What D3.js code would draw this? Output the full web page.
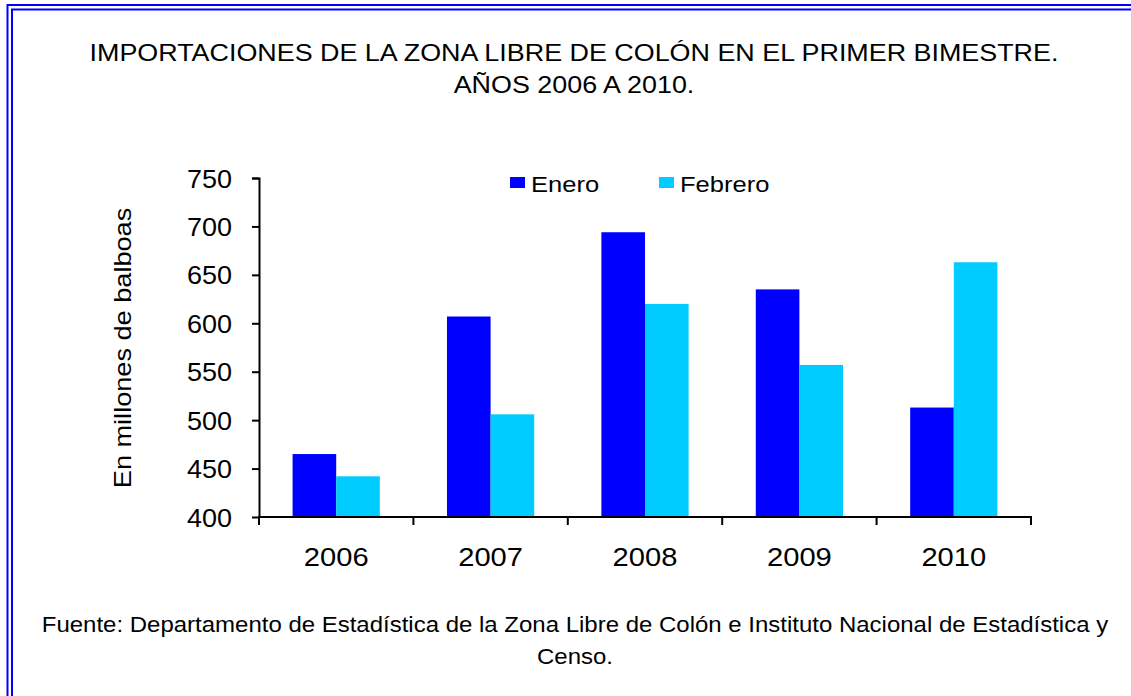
<!DOCTYPE html>
<html>
<head>
<meta charset="utf-8">
<script src="https://cdn.jsdelivr.net/npm/d3@7"></script>
<style>
  body { margin: 0; background: #fff; }
  svg { display: block; font-family: "Liberation Sans", Arial, sans-serif; }
</style>
</head>
<body>
<div id="chart"></div>
<script>
var years = ["2006", "2007", "2008", "2009", "2010"];
var enero = [465, 607, 694, 635, 513];
var febrero = [442, 506, 620, 557, 663];
var seriesNames = ["Enero", "Febrero"];
var seriesColors = ["#0000ff", "#00ccff"];
var yTicks = [400, 450, 500, 550, 600, 650, 700, 750];
var titleLines = ["IMPORTACIONES DE LA ZONA LIBRE DE COLÓN EN EL PRIMER BIMESTRE.", "AÑOS 2006 A 2010."];
var sourceLines = ["Fuente: Departamento de Estadística de la Zona Libre de Colón e Instituto Nacional de Estadística y", "Censo."];

var outerWidth = 1131,
    outerHeight = 696;
var margin = { top: 178, right: 100, bottom: 179, left: 259 },
    width = 1031 - margin.left,
    height = 517 - margin.top;

// the original text is a bit wider than Liberation Sans, so widen it
function stretch(sel, k) {
    sel.each(function() {
        var len = this.getComputedTextLength();
        d3.select(this)
            .attr("textLength", len * k)
            .attr("lengthAdjust", "spacingAndGlyphs");
    });
}

var svg = d3.select("#chart")
    .append("svg")
    .attr("width", outerWidth)
    .attr("height", outerHeight);

// double blue frame (runs off the right and bottom edges)
svg.append("rect")
    .attr("x", 7.5).attr("y", 5)
    .attr("width", 1200).attr("height", 800)
    .style("fill", "none").style("stroke", "#0000ff").style("stroke-width", 2);
svg.append("rect")
    .attr("x", 12).attr("y", 9.5)
    .attr("width", 1200).attr("height", 800)
    .style("fill", "none").style("stroke", "#0000ff").style("stroke-width", 2);

// title
svg.selectAll(".title")
    .data(titleLines)
    .enter().append("text")
    .attr("class", "title")
    .attr("x", 574)
    .attr("y", function(d, i) { return 61 + i * 32; })
    .attr("text-anchor", "middle")
    .style("font-size", "24px")
    .style("fill", "#000")
    .text(function(d) { return d; })
    .call(stretch, 1.12);

var g = svg.append("g")
    .attr("transform", "translate(" + margin.left + "," + margin.top + ")");

var x0 = d3.scaleBand()
    .domain(years)
    .range([0, width])
    .paddingInner(0.435)
    .paddingOuter(0.2175);

var x1 = d3.scaleBand()
    .domain(seriesNames)
    .range([0, x0.bandwidth()]);

var y = d3.scaleLinear()
    .domain([400, 750])
    .range([height, 0]);

var rows = years.map(function(yr, i) {
    return { year: yr, values: [enero[i], febrero[i]] };
});

g.selectAll(".group")
    .data(rows)
    .enter().append("g")
    .attr("class", "group")
    .attr("transform", function(d) { return "translate(" + x0(d.year) + ",0)"; })
    .selectAll("rect")
    .data(function(d) { return d.values; })
    .enter().append("rect")
    .attr("x", function(d, i) { return x1(seriesNames[i]); })
    .attr("width", x1.bandwidth())
    .attr("y", function(d) { return y(d); })
    .attr("height", function(d) { return height - y(d); })
    .style("fill", function(d, i) { return seriesColors[i]; });

// y axis
var yAxis = d3.axisLeft(y)
    .tickValues(yTicks)
    .tickSize(7)
    .tickPadding(20);
var yg = g.append("g").call(yAxis);
yg.select(".domain").attr("d", "M-7,0.5H0.5V" + height);
yg.selectAll(".tick line").style("stroke", "#000").style("stroke-width", 2);
yg.select(".domain").style("stroke", "#000").style("stroke-width", 2);
yg.selectAll("text")
    .style("font-size", "25px")
    .style("font-family", "Liberation Sans, Arial, sans-serif")
    .style("fill", "#000")
    .attr("dy", "0.36em")
    .call(stretch, 1.08);

// x axis: ticks at category boundaries
var bounds = years.map(function(yr) { return x0(yr) - x0.step() * x0.paddingInner() / 2; });
bounds.push(width);
var xg = g.append("g").attr("transform", "translate(0," + height + ")");
xg.append("line")
    .attr("x1", 0).attr("x2", width)
    .attr("y1", 0).attr("y2", 0)
    .style("stroke", "#000").style("stroke-width", 2);
xg.selectAll(".xtick")
    .data(bounds)
    .enter().append("line")
    .attr("class", "xtick")
    .attr("x1", function(d) { return d; }).attr("x2", function(d) { return d; })
    .attr("y1", -1).attr("y2", 8)
    .style("stroke", "#000").style("stroke-width", 2);
xg.selectAll(".xlabel")
    .data(years)
    .enter().append("text")
    .attr("class", "xlabel")
    .attr("x", function(d) { return x0(d) + x0.bandwidth() / 2; })
    .attr("y", 49)
    .attr("text-anchor", "middle")
    .style("font-size", "26px")
    .style("fill", "#000")
    .text(function(d) { return d; })
    .call(stretch, 1.12);

// y axis title
svg.append("text")
    .attr("transform", "translate(131,348) rotate(-90)")
    .attr("text-anchor", "middle")
    .style("font-size", "24px")
    .style("fill", "#000")
    .text("En millones de balboas")
    .call(stretch, 1.13);

// legend
var legendX = [510, 659];
var legend = svg.selectAll(".legend")
    .data(seriesNames)
    .enter().append("g")
    .attr("class", "legend")
    .attr("transform", function(d, i) { return "translate(" + legendX[i] + ",177)"; });
legend.append("rect")
    .attr("width", 15).attr("height", 11)
    .style("fill", function(d, i) { return seriesColors[i]; });
legend.append("text")
    .attr("x", 21).attr("y", 15)
    .style("font-size", "22px")
    .style("fill", "#000")
    .text(function(d) { return d; })
    .call(stretch, 1.16);

// source note
svg.selectAll(".source")
    .data(sourceLines)
    .enter().append("text")
    .attr("class", "source")
    .attr("x", 575)
    .attr("y", function(d, i) { return 632 + i * 32; })
    .attr("text-anchor", "middle")
    .style("font-size", "22px")
    .style("fill", "#000")
    .text(function(d) { return d; })
    .call(stretch, 1.09);
</script>
</body>
</html>
